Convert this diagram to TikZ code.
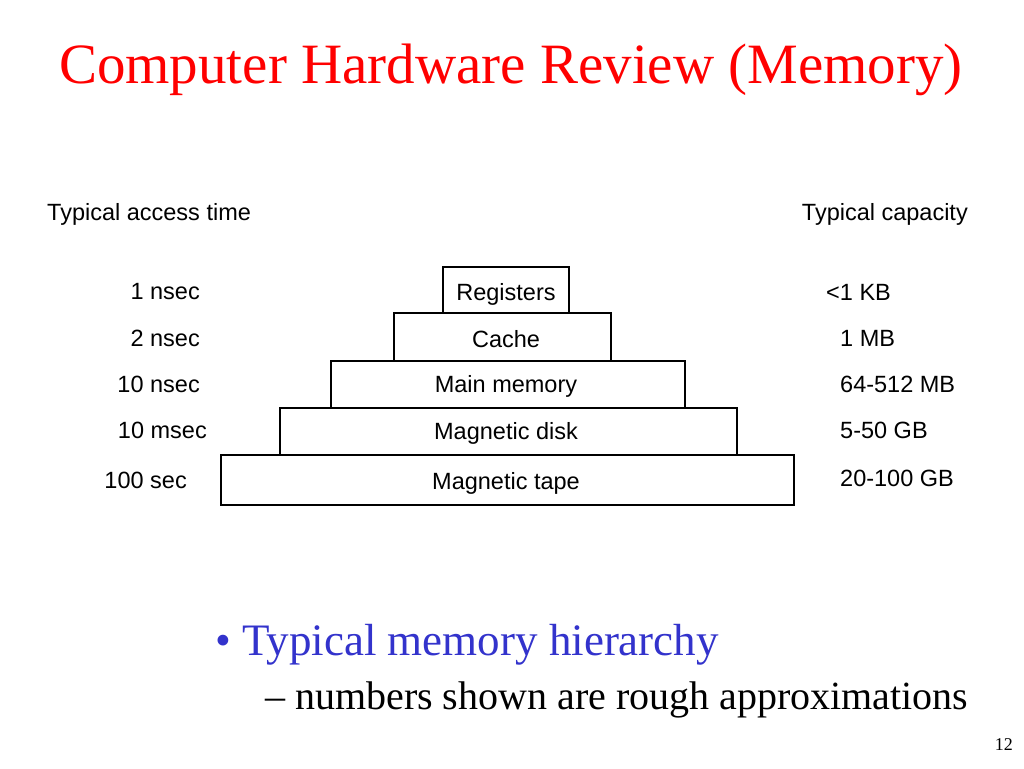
\documentclass[tikz,border=0pt]{standalone}
\usepackage{fontspec}
\setmainfont{Liberation Serif}
\newfontfamily\lsans{Liberation Sans}
\begin{document}
\begin{tikzpicture}[x=1pt,y=-1pt,
  lvl/.style={draw,line width=1.6pt,inner sep=0pt},
  lab/.style={font=\lsans\fontsize{23.5}{26}\selectfont,inner sep=0pt}]
\useasboundingbox[fill=white] (0,0) rectangle (1024,768);
\node[text=red,font=\fontsize{57}{64}\selectfont] (title) at (511,70) {Computer Hardware Review (Memory)};
\node[lab,anchor=west] (lt) at (47,214) {Typical access time};
\node[lab,anchor=east] (rt) at (968,214) {Typical capacity};
\draw[lvl] (443,267) rectangle (569,313);
\draw[lvl] (394,313) rectangle (611,361);
\draw[lvl] (331,361) rectangle (685,408);
\draw[lvl] (280,408) rectangle (737,455);
\draw[lvl] (221,455) rectangle (794,505);
\node[lab] (b1) at (506,294) {Registers};
\node[lab] (b2) at (506,339) {Cache};
\node[lab] (b3) at (506,386) {Main memory};
\node[lab] (b4) at (506,433) {Magnetic disk};
\node[lab] (b5) at (506,483) {Magnetic tape};
\node[lab,anchor=east] (l1) at (200,292) {1 nsec};
\node[lab,anchor=east] (l2) at (200,338) {2 nsec};
\node[lab,anchor=east] (l3) at (200,384) {10 nsec};
\node[lab,anchor=east] (l4) at (207,430) {10 msec};
\node[lab,anchor=east] (l5) at (187,480) {100 sec};
\node[lab,anchor=west] (r1) at (826,292) {<1 KB};
\node[lab,anchor=west] (r2) at (840,338) {1 MB};
\node[lab,anchor=west] (r3) at (840,384) {64-512 MB};
\node[lab,anchor=west] (r4) at (840,430) {5-50 GB};
\node[lab,anchor=west] (r5) at (840,478) {20-100 GB};
\node[anchor=west,text={rgb,255:red,51;green,51;blue,204},font=\fontsize{45}{50}\selectfont,inner sep=0pt] (bul) at (215,645) {\textbullet\ Typical memory hierarchy};
\node[anchor=west,font=\fontsize{40}{44}\selectfont,inner sep=0pt] (sub) at (265,700) {– numbers shown are rough approximations};
\node[anchor=east,font=\fontsize{18}{20}\selectfont,inner sep=0pt] (pg) at (1013,745) {12};
\end{tikzpicture}
\end{document}
